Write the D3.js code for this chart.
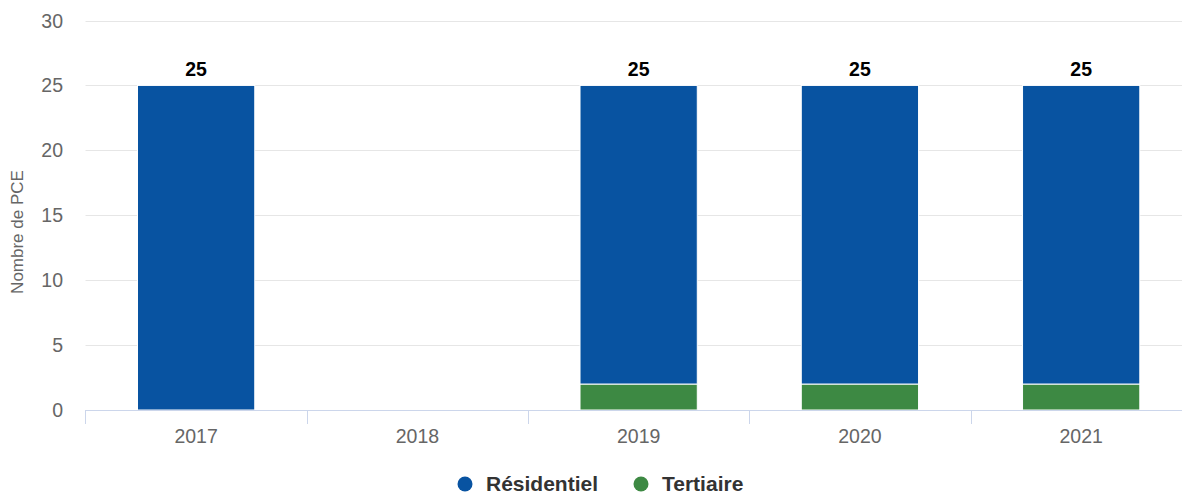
<!DOCTYPE html>
<html>
<head>
<meta charset="utf-8">
<script src="https://cdn.jsdelivr.net/npm/d3@7"></script>
<style>
  body { margin: 0; background: #fff; }
  svg { font-family: "Liberation Sans", Arial, Helvetica, sans-serif; display: block; }
</style>
</head>
<body>
<svg id="chart" width="1182" height="493"></svg>
<script>
// data
var years = ['2017', '2018', '2019', '2020', '2021'];
var residentiel = [25, null, 23, 23, 23];
var tertiaire = [0, null, 2, 2, 2];
var seriesNames = ['Résidentiel', 'Tertiaire'];
var seriesColors = ['#0853a1', '#3d8943'];
var yTicks = [0, 5, 10, 15, 20, 25, 30];

var svg = d3.select('#chart');

var x = d3.scaleBand().domain(years).range([85.5, 1191.8]).paddingInner(0.47).paddingOuter(0.235);
var y = d3.scaleLinear().domain([0, 30]).range([410, 20.5]);

// grid
svg.append('g')
    .selectAll('line')
    .data(yTicks.slice(1))
    .enter()
    .append('line')
    .attr('x1', 85.5).attr('x2', 1182)
    .attr('y1', function(d){ return Math.round(y(d)) + 0.5; })
    .attr('y2', function(d){ return Math.round(y(d)) + 0.5; })
    .attr('stroke', '#e6e6e6');

// y labels
svg.append('g')
    .selectAll('text')
    .data(yTicks)
    .enter()
    .append('text')
    .attr('x', 63)
    .attr('y', function(d){ return y(d) + 7; })
    .attr('text-anchor', 'end')
    .attr('fill', '#666')
    .style('font-size', '19.5px')
    .text(function(d){ return d; });

svg.append('text')
    .attr('transform', 'translate(23,232) rotate(-90)')
    .attr('text-anchor', 'middle')
    .attr('fill', '#666')
    .style('font-size', '17px')
    .text('Nombre de PCE');

// stacked bars, tertiaire at the bottom
var rows = years.map(function(yr, i){
    return {year: yr, r: residentiel[i], t: tertiaire[i]};
});
var stack = d3.stack().keys(['t', 'r']).value(function(d, k){ return d[k] || 0; });
var layers = stack(rows);
var layerColors = [seriesColors[1], seriesColors[0]];

svg.append('g')
    .selectAll('g')
    .data(layers)
    .enter()
    .append('g')
    .attr('fill', function(d, i){ return layerColors[i]; })
    .selectAll('rect')
    .data(function(d){ return d; })
    .enter()
    .filter(function(d){ return d[1] - d[0] > 0; })
    .append('rect')
    .attr('x', function(d){ return x(d.data.year); })
    .attr('width', x.bandwidth())
    .attr('y', function(d){ return y(d[1]); })
    .attr('height', function(d){ return y(d[0]) - y(d[1]); })
    .attr('stroke', '#fff')
    .attr('stroke-width', 1);

// totals
svg.append('g')
    .selectAll('text')
    .data(rows.filter(function(d){ return d.r !== null; }))
    .enter()
    .append('text')
    .attr('x', function(d){ return x(d.year) + x.bandwidth() / 2; })
    .attr('y', function(d){ return y(d.r + d.t) - 9; })
    .attr('text-anchor', 'middle')
    .attr('fill', '#000')
    .style('font-size', '19.5px')
    .style('font-weight', 'bold')
    .text(function(d){ return d.r + d.t; });

// x axis
var step = x.step();
svg.append('line')
    .attr('x1', 85.5).attr('x2', 1182)
    .attr('y1', 410.5).attr('y2', 410.5)
    .attr('stroke', '#ccd6eb');
svg.append('g')
    .selectAll('line')
    .data(years)
    .enter()
    .append('line')
    .attr('x1', function(d){ return Math.round(x(d) - step * 0.235) + 0.5; })
    .attr('x2', function(d){ return Math.round(x(d) - step * 0.235) + 0.5; })
    .attr('y1', 410).attr('y2', 424)
    .attr('stroke', '#ccd6eb');
svg.append('g')
    .selectAll('text')
    .data(years)
    .enter()
    .append('text')
    .attr('x', function(d){ return x(d) + x.bandwidth() / 2; })
    .attr('y', 443)
    .attr('text-anchor', 'middle')
    .attr('fill', '#666')
    .style('font-size', '19.5px')
    .text(function(d){ return d; });

// legend
var legendX = [465, 641];
var lg = svg.append('g')
    .selectAll('g')
    .data(seriesNames)
    .enter()
    .append('g')
    .attr('transform', function(d, i){ return 'translate(' + legendX[i] + ',484)'; });
lg.append('circle').attr('r', 7.5).attr('fill', function(d, i){ return seriesColors[i]; });
lg.append('text')
    .attr('x', 21).attr('y', 7)
    .attr('fill', '#333')
    .style('font-size', '21px')
    .style('font-weight', 'bold')
    .text(function(d){ return d; });
</script>
</body>
</html>
